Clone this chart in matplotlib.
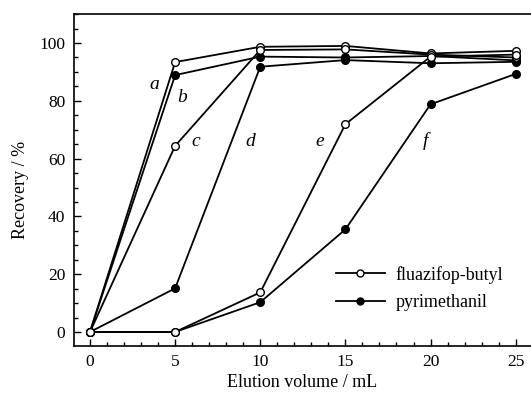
import matplotlib
matplotlib.use("Agg")
import matplotlib.pyplot as plt
from matplotlib.ticker import MultipleLocator
from matplotlib.lines import Line2D

plt.rcParams["font.family"] = ["Liberation Serif", "DejaVu Serif"]

volume = [0, 5, 10, 15, 20, 25]

# open circles = fluazifop-butyl, filled = pyrimethanil
series_a = [0, 93.4, 98.7, 99.0, 96.4, 97.3]
series_b = [0, 88.9, 95.3, 95.0, 95.5, 94.0]
series_c = [0, 64.4, 97.6, 97.8, 96.0, 95.0]
series_d = [0, 15.1, 91.8, 94.1, 93.0, 93.5]
series_e = [0, 0, 13.7, 71.9, 95.3, 96.0]
series_f = [0, 0, 10.3, 35.5, 78.8, 89.3]

curves = [
    ("a", series_a, "open", (3.8, 85.5)),
    ("b", series_b, "filled", (5.4, 81)),
    ("c", series_c, "open", (6.2, 66)),
    ("d", series_d, "filled", (9.4, 66)),
    ("e", series_e, "open", (13.5, 66)),
    ("f", series_f, "filled", (19.7, 66)),
]

fig = plt.figure(figsize=(5.31, 3.93), dpi=100)
ax = fig.add_axes([0.139, 0.12, 0.861, 0.844])

for name, vals, kind, pos in curves:
    fc = "white" if kind == "open" else "black"
    ax.plot(volume, vals, color="black", lw=1.3, marker="o", ms=5.5,
            mfc=fc, mec="black", mew=1.0, zorder=3 if kind == "filled" else 4)
    ax.text(pos[0], pos[1], name, fontsize=14, style="italic",
            ha="center", va="center")

ax.set_xlim(-0.95, 25.9)
ax.set_ylim(-4.8, 110)
ax.xaxis.set_major_locator(MultipleLocator(5))
ax.xaxis.set_minor_locator(MultipleLocator(1))
ax.yaxis.set_major_locator(MultipleLocator(20))
ax.yaxis.set_minor_locator(MultipleLocator(5))
ax.tick_params(which="both", direction="in", top=False, right=False,
               labelsize=12.5, width=1.0)
ax.tick_params(which="major", length=5, pad=6)
ax.tick_params(which="minor", length=3)
ax.spines["right"].set_visible(False)
for s in ["left", "bottom", "top"]:
    ax.spines[s].set_linewidth(1.2)

ax.set_xlabel("Elution volume / mL", fontsize=13, labelpad=3)
ax.set_ylabel("Recovery / %", fontsize=13)
ax.yaxis.set_label_coords(-0.097, 0.47)

handles = [
    Line2D([], [], color="black", lw=1.3, marker="o", ms=5,
           mfc="white", mec="black"),
    Line2D([], [], color="black", lw=1.3, marker="o", ms=5,
           mfc="black", mec="black"),
]
ax.legend(handles, ["fluazifop-butyl", "pyrimethanil"], loc="lower right",
          bbox_to_anchor=(0.975, 0.055), frameon=False, fontsize=13,
          handlelength=2.7, handletextpad=0.6, labelspacing=0.6)

fig.savefig("out.png", dpi=100)
